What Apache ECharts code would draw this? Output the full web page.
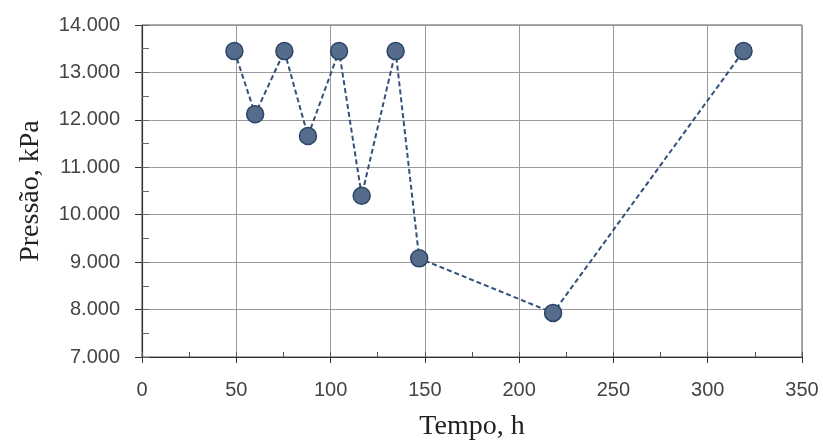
<!DOCTYPE html>
<html><head><meta charset="utf-8">
<script src="https://cdn.jsdelivr.net/npm/echarts@6/dist/echarts.min.js"></script>
<style>html,body{margin:0;padding:0;background:#fff}#c{width:823px;height:442px}</style>
</head><body><div id="c"></div>
<script>
const tempo = [49, 60, 75.5, 88, 104.5, 116.5, 134.5, 147, 218, 319];
const pressao = [13450, 12120, 13450, 11660, 13450, 10400, 13450, 9080, 7930, 13450];
const xTitle = 'Tempo, h';
const yTitle = 'Pressão, kPa';

const data = tempo.map((t, i) => [t, pressao[i]]);
const fmtY = v => { const s = Math.round(v).toString(); return s.slice(0, s.length - 3) + '.' + s.slice(-3); };
const labelFont = { fontFamily: 'Liberation Sans', fontSize: 20, color: '#444' };
const chart = echarts.init(document.getElementById('c'));
chart.setOption({
  animation: false,
  backgroundColor: '#fff',
  grid: { left: 142, right: 21, top: 25, bottom: 85, show: true, borderColor: '#555', borderWidth: 1, containLabel: false, outerBoundsMode: 'none' },
  xAxis: [{
    type: 'value', min: 0, max: 350, interval: 50,
    name: xTitle, nameLocation: 'middle', nameGap: 56,
    nameTextStyle: { fontFamily: 'Liberation Serif', fontSize: 28, color: '#222' },
    axisLine: { show: true, lineStyle: { color: '#333', width: 1.2 } },
    axisTick: { show: true, inside: false, length: 6, lineStyle: { color: '#333' } },
    axisLabel: Object.assign({ margin: 23 }, labelFont),
    splitLine: { show: true, lineStyle: { color: '#9a9a9a', width: 1 } }
  }, {
    type: 'value', min: 0, max: 350, interval: 25, position: 'bottom',
    axisLine: { show: false }, axisLabel: { show: false }, splitLine: { show: false },
    axisTick: { show: true, inside: true, length: 5, lineStyle: { color: '#555' } }
  }],
  yAxis: [{
    type: 'value', min: 7000, max: 14000, interval: 1000,
    name: yTitle, nameLocation: 'middle', nameGap: 97, nameRotate: 90,
    nameTextStyle: { fontFamily: 'Liberation Serif', fontSize: 28, color: '#222' },
    axisLine: { show: true, lineStyle: { color: '#333', width: 1.2 } },
    axisTick: { show: true, inside: false, length: 7, lineStyle: { color: '#333' } },
    axisLabel: Object.assign({ margin: 22, formatter: fmtY }, labelFont),
    splitLine: { show: true, lineStyle: { color: '#9a9a9a', width: 1 } }
  }, {
    type: 'value', min: 7000, max: 14000, interval: 500, position: 'left',
    axisLine: { show: false }, axisLabel: { show: false }, splitLine: { show: false },
    axisTick: { show: true, inside: true, length: 7, lineStyle: { color: '#666' } }
  }],
  series: [{
    type: 'line', data: data, xAxisIndex: 0, yAxisIndex: 0,
    symbol: 'circle', symbolSize: 17,
    lineStyle: { color: '#34507a', width: 2, type: [5, 3] },
    itemStyle: { color: '#566c8c', borderColor: '#2c4466', borderWidth: 1.5 }
  }]
});
</script></body></html>
